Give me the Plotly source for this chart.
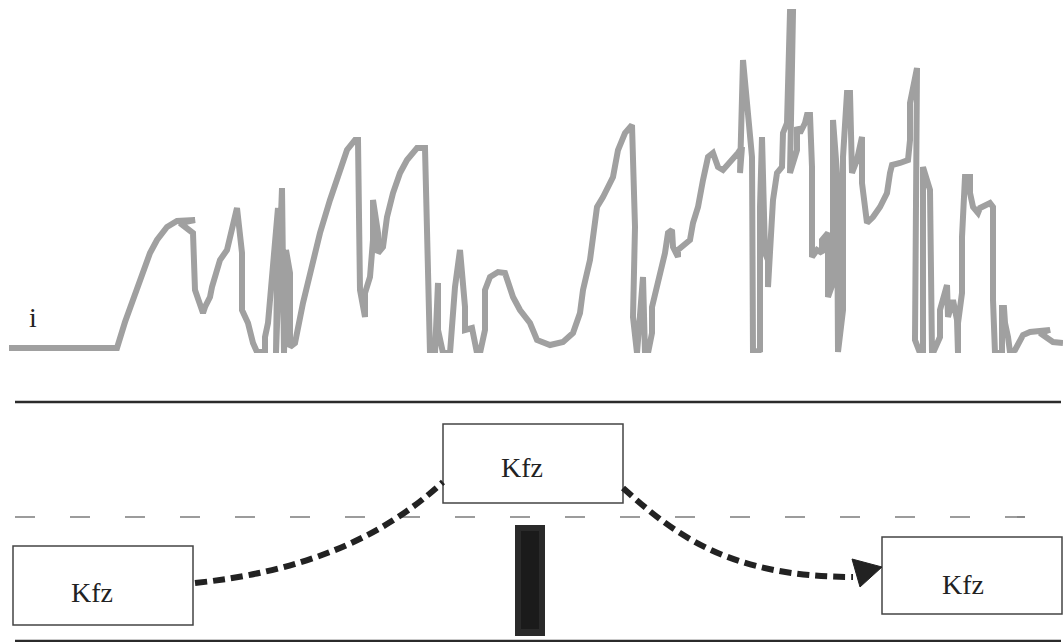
import plotly.graph_objects as go

# ---- signal trace: x position and level above baseline ----
sig_x = [9,100,108,117,125,133,143,150,157,167,177,195,180,193,195,200,203,205,210,212,220,227,230,235,237,
         242,242,248,253,257,265,265,268,278,276,282,284,286,290,290,295,303,312,320,330,340,347,355,358,
         360,365,365,370,373,373,378,378,383,387,393,400,407,417,425,428,430,435,438,438,443,450,453,455,
         460,465,465,472,477,480,485,485,490,498,505,513,520,530,537,550,563,573,580,583,590,593,597,603,
         613,618,625,632,635,633,637,643,645,648,652,652,657,662,665,668,672,673,678,678,690,693,698,703,
         708,713,718,723,728,733,738,742,740,743,752,753,760,760,762,765,768,768,772,773,777,782,783,787,
         790,793,790,797,797,800,805,807,810,812,812,817,822,822,828,828,833,833,837,838,843,843,847,850,
         852,857,862,862,867,873,880,887,890,892,900,908,910,910,917,915,920,923,923,930,932,933,940,940,
         947,948,953,957,958,958,962,962,965,970,970,973,978,980,990,993,993,995,1002,1002,1004,1005,1008,
         1010,1015,1018,1023,1030,1050,1040,1047,1053,1063]
sig_py = [348,348,347,348,322,300,273,253,240,227,221,220,223,233,290,307,313,307,297,287,260,250,237,220,208,
          253,310,323,343,352,352,337,323,208,353,188,353,250,273,347,343,303,267,233,200,170,150,140,140,
          290,317,293,277,240,200,233,253,247,217,193,173,160,148,148,250,353,353,283,330,353,353,317,287,
          250,307,330,328,353,353,330,290,277,272,273,297,310,323,340,345,342,333,313,290,260,233,207,197,
          177,150,133,125,227,317,353,277,353,353,333,307,287,267,253,233,230,247,257,250,240,223,207,180,
          157,153,167,170,165,160,153,147,173,60,157,353,350,207,137,253,260,287,227,200,173,167,133,123,
          12,12,173,150,127,133,123,115,115,167,257,250,253,240,233,297,283,120,173,352,310,157,93,93,
          173,160,137,183,223,217,207,193,173,165,163,160,140,103,68,340,353,353,167,190,353,353,337,310,
          285,317,300,320,353,323,293,237,177,177,193,207,213,208,203,207,300,353,353,308,308,323,337,
          352,350,343,335,332,330,333,338,342,343]
BASE = 353
sig_y = [BASE - p for p in sig_py]

box_labels = ["Kfz", "Kfz", "Kfz"]
axis_label = "i"

W, H = 1063, 642


def py(v):
    """window pixel row -> paper fraction"""
    return 1 - v / H


fig = go.Figure()
fig.add_trace(go.Scatter(x=sig_x, y=sig_y, mode="lines",
                         line=dict(color="#a0a0a0", width=6), hoverinfo="skip",
                         showlegend=False))

fig.update_layout(
    width=W, height=H, margin=dict(l=0, r=0, t=0, b=0),
    paper_bgcolor="white", plot_bgcolor="rgba(0,0,0,0)",
    xaxis=dict(range=[0, W], visible=False, fixedrange=True, domain=[0, 1]),
    yaxis=dict(range=[0, BASE], domain=[py(BASE), 1], visible=False, fixedrange=True),
)

shapes = []


def line(x0, y0, x1, y1, **kw):
    shapes.append(dict(type="line", xref="x", yref="paper", x0=x0, x1=x1,
                       y0=py(y0), y1=py(y1), line=kw))


def rect(x0, y0, x1, y1, lc, lw, fc):
    shapes.append(dict(type="rect", xref="x", yref="paper", x0=x0, x1=x1,
                       y0=py(y0), y1=py(y1), line=dict(color=lc, width=lw), fillcolor=fc))


def path(pts_cmds, **kw):
    parts = []
    for cmd, pts in pts_cmds:
        parts.append(cmd + " " + ", ".join(f"{x} {py(y):.5f}" for x, y in pts))
    shapes.append(dict(type="path", xref="x", yref="paper", path=" ".join(parts), **kw))


# horizontal lines
line(15, 402, 1061, 402, color="#2b2b2b", width=2.5)
line(15, 641, 1061, 641, color="#2b2b2b", width=2.5)
line(15, 517, 1030, 517, color="#3a3a3a", width=1.2, dash="20px,35px")
# boxes
rect(13, 546, 193, 625, "#444444", 1.5, "white")
rect(443, 424, 623, 503, "#444444", 1.5, "white")
rect(882, 537, 1062, 614, "#444444", 1.5, "white")
# dark bar
rect(515, 525, 545, 636, "rgba(0,0,0,0)", 0, "#2a2a2a")
rect(521, 531, 539, 629, "rgba(0,0,0,0)", 0, "#1b1b1b")
# dashed curves
path([("M", [(195, 583)]), ("C", [(300, 572), (380, 540), (443, 482)])],
     line=dict(color="#222222", width=6, dash="12px,6px"))
path([("M", [(623, 488)]), ("C", [(675, 535), (730, 577), (853, 577)])],
     line=dict(color="#222222", width=6, dash="12px,6px"))
path([("M", [(852, 559)]), ("L", [(882, 567)]), ("L", [(860, 587)]), ("Z", [])],
     line=dict(color="#222222", width=1), fillcolor="#222222")
fig.update_layout(shapes=shapes)

font = dict(family="Liberation Serif, Times New Roman, serif", size=28, color="#222222")
annotations = [
    dict(x=92, y=py(592), text=box_labels[0]),
    dict(x=522, y=py(467), text=box_labels[1]),
    dict(x=963, y=py(584), text=box_labels[2]),
    dict(x=33, y=py(317), text=axis_label),
]
for a in annotations:
    fig.add_annotation(xref="x", yref="paper", showarrow=False, font=font,
                       xanchor="center", yanchor="middle", **a)

fig.write_html("out.html", config={"displayModeBar": False, "staticPlot": True},
               post_script="document.body.style.margin='0';"
                           "document.documentElement.style.overflow='hidden';"
                           "document.body.style.overflow='hidden';")
